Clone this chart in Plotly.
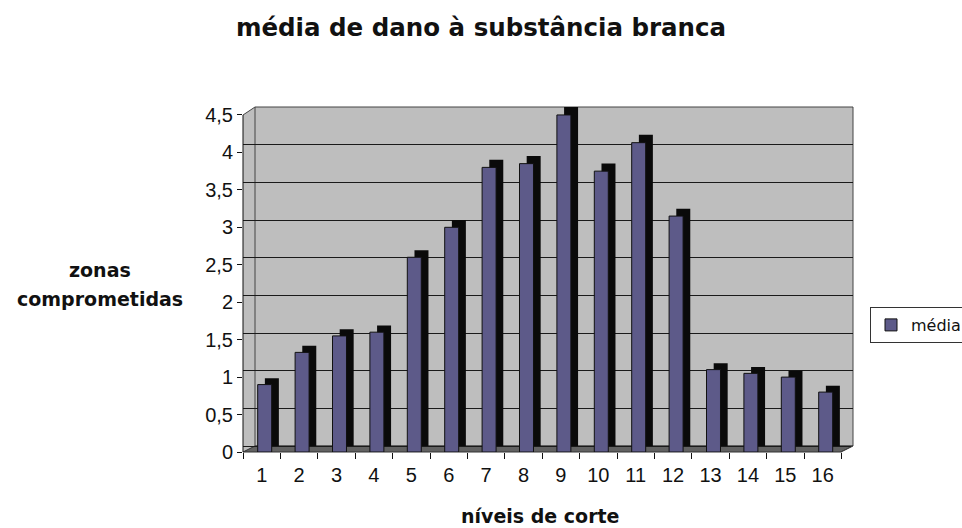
import plotly.graph_objects as go

# Mean white-matter damage per slice level
niveis = [str(i) for i in range(1, 17)]
media = [0.9, 1.33, 1.55, 1.6, 2.6, 3.0, 3.8, 3.85, 4.5, 3.75, 4.13, 3.15, 1.1, 1.05, 1.0, 0.8]
y_ticks = [0, 0.5, 1, 1.5, 2, 2.5, 3, 3.5, 4, 4.5]

W, H = 962, 528
L, R, T, B = 243, 853, 107, 452          # plot area in pixels
pw, ph = R - L, B - T

def px(x):
    return (x - L) / pw

def py(y):
    return (B - y) / ph

fig = go.Figure()

# dark side/top of each column, on the rear (wall) scale so it sits up and back
fig.add_trace(go.Bar(
    x=niveis, y=media, yaxis="y",
    width=0.374, offset=0.085,
    marker=dict(color="#0a0a0a", line=dict(width=0)),
    showlegend=False, hoverinfo="skip",
))
# front face of each column, on the front (labelled) scale
fig.add_trace(go.Bar(
    x=niveis, y=media, yaxis="y2", name="média",
    width=0.374, offset=-0.107,
    marker=dict(color="#5d5a89", line=dict(color="#111111", width=1)),
))

font_bold = dict(family="DejaVu Sans", color="#111111", weight="bold")

shapes = [
    # floor
    dict(type="path", xref="paper", yref="paper", layer="below",
         path=f"M 0,0 L {px(841)},0 L 1,{py(446)} L {px(255)},{py(446)} Z",
         fillcolor="#626262", line=dict(color="#333333", width=1)),
    # white corners outside the box
    dict(type="path", xref="paper", yref="paper", layer="above",
         path=f"M 0,1 L {px(255)},1 L 0,{py(115)} Z",
         fillcolor="white", line=dict(width=0)),
    dict(type="path", xref="paper", yref="paper", layer="above",
         path=f"M {px(841)},0 L 1,0 L 1,{py(446)} Z",
         fillcolor="white", line=dict(width=0)),
    # back wall outline
    dict(type="rect", xref="paper", yref="paper", layer="below",
         x0=px(255), y0=py(446), x1=1, y1=1,
         line=dict(color="#444444", width=1)),
    # front vertical axis and the box edges
    dict(type="line", xref="paper", yref="paper",
         x0=0, y0=0, x1=0, y1=py(115), line=dict(color="#111111", width=1)),
    dict(type="line", xref="paper", yref="paper",
         x0=0, y0=py(115), x1=px(255), y1=1, line=dict(color="#444444", width=1)),
    dict(type="line", xref="paper", yref="paper",
         x0=px(841), y0=0, x1=1, y1=py(446), line=dict(color="#333333", width=1)),
]

annotations = [
    dict(text="zonas", xref="paper", yref="paper",
         x=px(100), y=py(270), xanchor="center", yanchor="middle",
         showarrow=False, font=dict(size=19, **font_bold)),
    dict(text="comprometidas", xref="paper", yref="paper",
         x=px(100), y=py(299), xanchor="center", yanchor="middle",
         showarrow=False, font=dict(size=19, **font_bold)),
    dict(text="níveis de corte", xref="paper", yref="paper",
         x=px(540), y=py(516), xanchor="center", yanchor="middle",
         showarrow=False, font=dict(size=19, **font_bold)),
]

tick_font = dict(family="Liberation Sans", size=20, color="#111111")

fig.update_layout(
    width=W, height=H,
    margin=dict(l=L, r=W - R, t=T, b=H - B, autoexpand=False),
    paper_bgcolor="white",
    plot_bgcolor="#bebebe",
    separators=",.",
    barmode="overlay",
    title=dict(text="média de dano à substância branca",
               x=481 / W, xref="container", xanchor="center",
               y=1 - 27 / H, yref="container", yanchor="middle",
               font=dict(size=24.5, **font_bold)),
    xaxis=dict(type="category", categoryorder="array", categoryarray=niveis,
               range=[-0.5, -0.5 + pw / 37.4],
               tickson="boundaries", ticks="outside", ticklen=6,
               tickcolor="#111111", showline=False, showgrid=False,
               ticklabelstandoff=9, tickfont=tick_font),
    # rear wall scale: carries the grid
    yaxis=dict(range=[-6 / 75.3, 4.5], tickvals=y_ticks,
               showticklabels=False, ticks="", showgrid=True,
               gridcolor="#1a1a1a", gridwidth=1, zeroline=False, showline=False),
    # front scale: carries the tick labels
    yaxis2=dict(overlaying="y", side="left", anchor="x",
                range=[0, (B - T) / 74.9], tickvals=y_ticks,
                ticks="outside", ticklen=5, tickcolor="#111111",
                showgrid=False, zeroline=False, showline=False,
                tickfont=tick_font),
    legend=dict(x=px(870), y=py(325), xanchor="left", yanchor="middle",
                bgcolor="white", bordercolor="#333333", borderwidth=1,
                font=dict(family="DejaVu Sans", size=16, color="#111111")),
    shapes=shapes,
    annotations=annotations,
    showlegend=True,
)

fig.write_html("out.html")
